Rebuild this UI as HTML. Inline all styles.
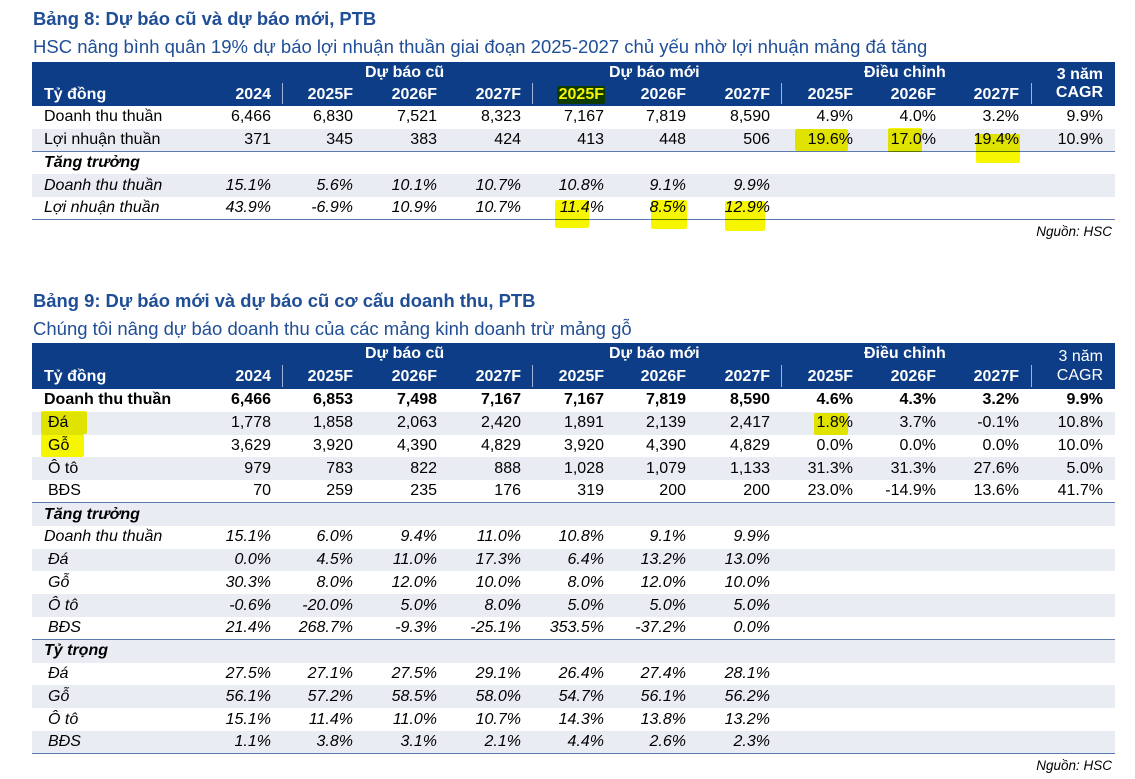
<!DOCTYPE html>
<html><head><meta charset="utf-8">
<style>
*{margin:0;padding:0;box-sizing:border-box}
body{width:1135px;height:779px;background:#fff;position:relative;overflow:hidden;font-family:"Liberation Sans",Arial,sans-serif;color:#000}
.t1{position:absolute;left:33px;font-size:18.4px;font-weight:bold;color:#1f4e96}
.t2{position:absolute;left:33px;font-size:18.5px;color:#1f4e96}
.hdr{position:absolute;left:32px;width:1083px;background:#0d3d86;color:#fff;font-weight:bold;font-size:16px}
.hdr span{position:absolute;white-space:nowrap}
.sep{position:absolute;width:1px;background:#9fb3d6}
table{position:absolute;left:32px;width:1083px;border-collapse:collapse;table-layout:fixed;font-size:16px}
td{height:22.8px;padding:0 4px 0 0;text-align:right;white-space:nowrap;overflow:visible;line-height:20px}
td:first-child{text-align:left;padding-left:12px}
td:last-child{padding-right:12px}
tr.g td{background:#e9ecf3}
tr.i td{font-style:italic}
tr.b td{font-weight:bold}
tr.s td{font-weight:bold;font-style:italic}
tr.bl td{border-bottom:1.5px solid #5b79ad}
td.sub{padding-left:16px}
.hl{position:absolute;background:#f6f600;mix-blend-mode:multiply;border-radius:2px}
.src{position:absolute;right:23px;font-size:13.5px;font-style:italic}
</style></head><body>

<div class="t1" style="top:8px">Bảng 8: Dự báo cũ và dự báo mới, PTB</div>
<div class="t2" style="top:36px">HSC nâng bình quân 19% dự báo lợi nhuận thuần giai đoạn 2025-2027 chủ yếu nhờ lợi nhuận mảng đá tăng</div>

<div class="hdr" style="top:62px;height:44px">
<span style="left:333px;top:2px">Dự báo cũ</span>
<span style="left:577px;top:2px">Dự báo mới</span>
<span style="left:832px;top:2px">Điều chỉnh</span>
<span style="right:12px;top:4px">3 năm</span>
<span style="left:12px;top:24px">Tỷ đồng</span>
<span style="right:844px;top:24px">2024</span>
<span style="right:762px;top:24px">2025F</span>
<span style="right:678px;top:24px">2026F</span>
<span style="right:594px;top:24px">2027F</span>
<span style="right:511px;top:24px">2025F</span>
<span style="right:429px;top:24px">2026F</span>
<span style="right:345px;top:24px">2027F</span>
<span style="right:262px;top:24px">2025F</span>
<span style="right:179px;top:24px">2026F</span>
<span style="right:96px;top:24px">2027F</span>
<span style="right:12px;top:22px">CAGR</span>
<div class="sep" style="left:250px;top:21px;height:21px"></div>
<div class="sep" style="left:500px;top:21px;height:21px"></div>
<div class="sep" style="left:749px;top:21px;height:21px"></div>
<div class="sep" style="left:999px;top:21px;height:21px"></div>
</div>

<table style="top:106px">
<colgroup><col style="width:158px"><col style="width:85px"><col style="width:82px"><col style="width:84px"><col style="width:84px"><col style="width:83px"><col style="width:82px"><col style="width:84px"><col style="width:83px"><col style="width:83px"><col style="width:83px"><col style="width:92px"></colgroup>
<tr><td>Doanh thu thuần</td><td>6,466</td><td>6,830</td><td>7,521</td><td>8,323</td><td>7,167</td><td>7,819</td><td>8,590</td><td>4.9%</td><td>4.0%</td><td>3.2%</td><td>9.9%</td></tr>
<tr class="g bl"><td>Lợi nhuận thuần</td><td>371</td><td>345</td><td>383</td><td>424</td><td>413</td><td>448</td><td>506</td><td>19.6%</td><td>17.0%</td><td>19.4%</td><td>10.9%</td></tr>
<tr class="s"><td>Tăng trưởng</td><td></td><td></td><td></td><td></td><td></td><td></td><td></td><td></td><td></td><td></td><td></td></tr>
<tr class="g i"><td>Doanh thu thuần</td><td>15.1%</td><td>5.6%</td><td>10.1%</td><td>10.7%</td><td>10.8%</td><td>9.1%</td><td>9.9%</td><td></td><td></td><td></td><td></td></tr>
<tr class="i bl"><td>Lợi nhuận thuần</td><td>43.9%</td><td>-6.9%</td><td>10.9%</td><td>10.7%</td><td>11.4%</td><td>8.5%</td><td>12.9%</td><td></td><td></td><td></td><td></td></tr>
</table>
<div class="src" style="top:224px">Nguồn: HSC</div>

<div class="hl" style="left:557px;top:86px;width:48px;height:18px"></div>
<div class="hl" style="left:795px;top:129px;width:53px;height:22px"></div>
<div class="hl" style="left:888px;top:128px;width:34px;height:24px"></div>
<div class="hl" style="left:976px;top:134px;width:44px;height:29px"></div>
<div class="hl" style="left:555px;top:200px;width:34px;height:28px"></div>
<div class="hl" style="left:651px;top:200px;width:36px;height:29px"></div>
<div class="hl" style="left:725px;top:201px;width:40px;height:30px"></div>

<div class="t1" style="top:290px">Bảng 9: Dự báo mới và dự báo cũ cơ cấu doanh thu, PTB</div>
<div class="t2" style="top:318px">Chúng tôi nâng dự báo doanh thu của các mảng kinh doanh trừ mảng gỗ</div>

<div class="hdr" style="top:343px;height:46px">
<span style="left:333px;top:2px">Dự báo cũ</span>
<span style="left:577px;top:2px">Dự báo mới</span>
<span style="left:832px;top:2px">Điều chỉnh</span>
<span style="right:12px;top:5px;font-weight:normal">3 năm</span>
<span style="left:12px;top:25px">Tỷ đồng</span>
<span style="right:844px;top:25px">2024</span>
<span style="right:762px;top:25px">2025F</span>
<span style="right:678px;top:25px">2026F</span>
<span style="right:594px;top:25px">2027F</span>
<span style="right:511px;top:25px">2025F</span>
<span style="right:429px;top:25px">2026F</span>
<span style="right:345px;top:25px">2027F</span>
<span style="right:262px;top:25px">2025F</span>
<span style="right:179px;top:25px">2026F</span>
<span style="right:96px;top:25px">2027F</span>
<span style="right:12px;top:24px;font-weight:normal">CAGR</span>
<div class="sep" style="left:250px;top:22px;height:22px"></div>
<div class="sep" style="left:500px;top:22px;height:22px"></div>
<div class="sep" style="left:749px;top:22px;height:22px"></div>
<div class="sep" style="left:999px;top:22px;height:22px"></div>
</div>

<table style="top:389px">
<colgroup><col style="width:158px"><col style="width:85px"><col style="width:82px"><col style="width:84px"><col style="width:84px"><col style="width:83px"><col style="width:82px"><col style="width:84px"><col style="width:83px"><col style="width:83px"><col style="width:83px"><col style="width:92px"></colgroup>
<tr class="b"><td>Doanh thu thuần</td><td>6,466</td><td>6,853</td><td>7,498</td><td>7,167</td><td>7,167</td><td>7,819</td><td>8,590</td><td>4.6%</td><td>4.3%</td><td>3.2%</td><td>9.9%</td></tr>
<tr class="g"><td class="sub">Đá</td><td>1,778</td><td>1,858</td><td>2,063</td><td>2,420</td><td>1,891</td><td>2,139</td><td>2,417</td><td>1.8%</td><td>3.7%</td><td>-0.1%</td><td>10.8%</td></tr>
<tr><td class="sub">Gỗ</td><td>3,629</td><td>3,920</td><td>4,390</td><td>4,829</td><td>3,920</td><td>4,390</td><td>4,829</td><td>0.0%</td><td>0.0%</td><td>0.0%</td><td>10.0%</td></tr>
<tr class="g"><td class="sub">Ô tô</td><td>979</td><td>783</td><td>822</td><td>888</td><td>1,028</td><td>1,079</td><td>1,133</td><td>31.3%</td><td>31.3%</td><td>27.6%</td><td>5.0%</td></tr>
<tr class="bl"><td class="sub">BĐS</td><td>70</td><td>259</td><td>235</td><td>176</td><td>319</td><td>200</td><td>200</td><td>23.0%</td><td>-14.9%</td><td>13.6%</td><td>41.7%</td></tr>
<tr class="g s"><td>Tăng trưởng</td><td></td><td></td><td></td><td></td><td></td><td></td><td></td><td></td><td></td><td></td><td></td></tr>
<tr class="i"><td>Doanh thu thuần</td><td>15.1%</td><td>6.0%</td><td>9.4%</td><td>11.0%</td><td>10.8%</td><td>9.1%</td><td>9.9%</td><td></td><td></td><td></td><td></td></tr>
<tr class="g i"><td class="sub">Đá</td><td>0.0%</td><td>4.5%</td><td>11.0%</td><td>17.3%</td><td>6.4%</td><td>13.2%</td><td>13.0%</td><td></td><td></td><td></td><td></td></tr>
<tr class="i"><td class="sub">Gỗ</td><td>30.3%</td><td>8.0%</td><td>12.0%</td><td>10.0%</td><td>8.0%</td><td>12.0%</td><td>10.0%</td><td></td><td></td><td></td><td></td></tr>
<tr class="g i"><td class="sub">Ô tô</td><td>-0.6%</td><td>-20.0%</td><td>5.0%</td><td>8.0%</td><td>5.0%</td><td>5.0%</td><td>5.0%</td><td></td><td></td><td></td><td></td></tr>
<tr class="i bl"><td class="sub">BĐS</td><td>21.4%</td><td>268.7%</td><td>-9.3%</td><td>-25.1%</td><td>353.5%</td><td>-37.2%</td><td>0.0%</td><td></td><td></td><td></td><td></td></tr>
<tr class="g s"><td>Tỷ trọng</td><td></td><td></td><td></td><td></td><td></td><td></td><td></td><td></td><td></td><td></td><td></td></tr>
<tr class="i"><td class="sub">Đá</td><td>27.5%</td><td>27.1%</td><td>27.5%</td><td>29.1%</td><td>26.4%</td><td>27.4%</td><td>28.1%</td><td></td><td></td><td></td><td></td></tr>
<tr class="g i"><td class="sub">Gỗ</td><td>56.1%</td><td>57.2%</td><td>58.5%</td><td>58.0%</td><td>54.7%</td><td>56.1%</td><td>56.2%</td><td></td><td></td><td></td><td></td></tr>
<tr class="i"><td class="sub">Ô tô</td><td>15.1%</td><td>11.4%</td><td>11.0%</td><td>10.7%</td><td>14.3%</td><td>13.8%</td><td>13.2%</td><td></td><td></td><td></td><td></td></tr>
<tr class="g i bl"><td class="sub">BĐS</td><td>1.1%</td><td>3.8%</td><td>3.1%</td><td>2.1%</td><td>4.4%</td><td>2.6%</td><td>2.3%</td><td></td><td></td><td></td><td></td></tr>
</table>
<div class="src" style="top:758px">Nguồn: HSC</div>

<div class="hl" style="left:41px;top:411px;width:46px;height:23px"></div>
<div class="hl" style="left:41px;top:434px;width:43px;height:23px"></div>
<div class="hl" style="left:814px;top:413px;width:34px;height:22px"></div>
</body></html>
